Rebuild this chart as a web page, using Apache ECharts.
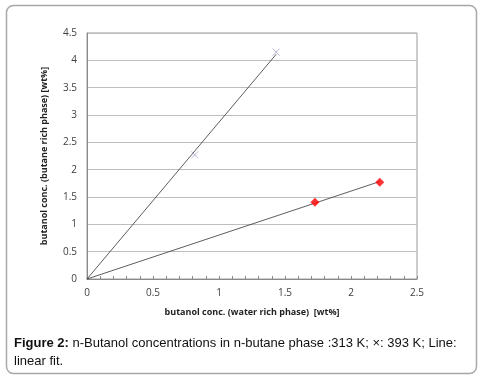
<!DOCTYPE html>
<html><head><meta charset="utf-8">
<script src="https://cdn.jsdelivr.net/npm/echarts@6/dist/echarts.min.js"></script>
<style>html,body{margin:0;padding:0;background:#fff}#c{width:483px;height:380px}</style>
</head><body><div id="c"></div>
<script>
// 393 K (×) data
const x393 = [0.816, 1.433];
const y393 = [2.27, 4.15];
// 313 K (red diamonds) data
const x313 = [1.727, 2.218];
const y313 = [1.405, 1.77];
const xTicks = [0, 0.5, 1, 1.5, 2, 2.5];
const yTicks = [0, 0.5, 1, 1.5, 2, 2.5, 3, 3.5, 4, 4.5];

function fitOrigin(xs, ys) {
  let sxy = 0, sxx = 0;
  for (let i = 0; i < xs.length; i++) { sxy += xs[i] * ys[i]; sxx += xs[i] * xs[i]; }
  const k = sxy / sxx, xm = Math.max(...xs);
  return [[0, 0], [xm, k * xm]];
}
const pts = (xs, ys) => xs.map((v, i) => [v, ys[i]]);

const chart = echarts.init(document.getElementById('c'), null, {renderer: 'canvas'});
const labelFont = {color: '#404040', fontSize: 10, fontFamily: 'Open Sans'};
chart.setOption({
  animation: false,
  grid: {left: 87, right: 66, top: 33, bottom: 101, show: true, borderColor: '#9a9a9a', borderWidth: 1},
  xAxis: {
    type: 'value', min: xTicks[0], max: xTicks[xTicks.length - 1], interval: 0.5,
    name: 'butanol conc. (water rich phase)  [wt%]', nameLocation: 'middle', nameGap: 29,
    nameTextStyle: {fontSize: 9, fontWeight: 'bold', color: '#222', fontFamily: 'Open Sans'},
    axisLine: {lineStyle: {color: '#8a8a8a'}},
    axisTick: {show: true, inside: true, length: 3, lineStyle: {color: '#8a8a8a'}},
    minorTick: {show: true, splitNumber: 5, length: 3, lineStyle: {color: '#8a8a8a'}},
    splitLine: {show: false},
    axisLabel: Object.assign({margin: 9, formatter: v => String(v)}, labelFont)
  },
  yAxis: {
    type: 'value', min: yTicks[0], max: yTicks[yTicks.length - 1], interval: 0.5,
    name: 'butanol conc. (butane rich phase) [wt%]', nameLocation: 'middle', nameGap: 38, nameRotate: 90,
    nameTextStyle: {fontSize: 9, fontWeight: 'bold', color: '#222', fontFamily: 'Open Sans'},
    axisLine: {show: true, lineStyle: {color: '#8a8a8a'}},
    axisTick: {show: false},
    splitLine: {show: true, lineStyle: {color: '#bdbdbd', width: 1}},
    axisLabel: Object.assign({margin: 10, formatter: v => String(v)}, labelFont)
  },
  series: [
    {type: 'line', data: fitOrigin(x393, y393), symbol: 'none', lineStyle: {color: '#333', width: 0.8}, z: 2},
    {type: 'line', data: fitOrigin(x313, y313), symbol: 'none', lineStyle: {color: '#333', width: 0.8}, z: 2},
    {type: 'scatter', data: pts(x393, y393), symbol: 'path://M0,0L10,10M10,0L0,10', symbolSize: 7,
     itemStyle: {color: 'none', borderColor: '#aaa4cc', borderWidth: 1}, z: 3},
    {type: 'scatter', data: pts(x313, y313), symbol: 'diamond', symbolSize: 9,
     itemStyle: {color: '#ff0000'}, z: 3}
  ],
  graphic: [
    {type: 'rect', shape: {x: 6.5, y: 5.5, width: 470, height: 368, r: 7}, style: {fill: 'none', stroke: '#a8a8a8', lineWidth: 1.5}, z: -1},
    {type: 'text', left: 14, top: 334, style: {
      text: '{b|Figure 2:} n-Butanol concentrations in n-butane phase :313 K; ×: 393 K; Line:\nlinear fit.',
      rich: {b: {fontWeight: 'bold', fontSize: 13, fontFamily: 'Liberation Sans', fill: '#111'}},
      fontSize: 13, fontFamily: 'Liberation Sans', fill: '#111', lineHeight: 18}}
  ]
});
</script></body></html>
